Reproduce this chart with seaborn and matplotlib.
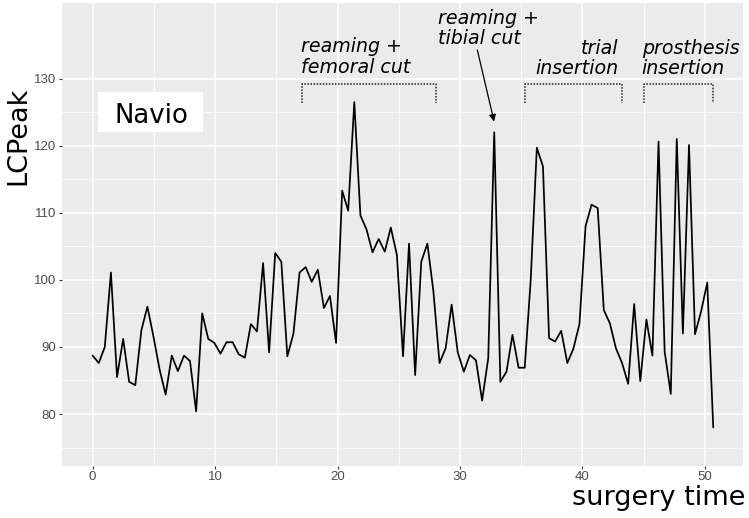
import numpy as np
import pandas as pd
import seaborn as sns
import matplotlib.pyplot as plt
from matplotlib.patches import Rectangle
from matplotlib.ticker import FixedLocator

surgery_time = [
    0.00, 0.50, 0.99, 1.49, 1.99, 2.49, 2.98, 3.48, 3.98, 4.47,
    4.97, 5.47, 5.96, 6.46, 6.96, 7.46, 7.95, 8.45, 8.95, 9.44,
    9.94, 10.44, 10.93, 11.43, 11.93, 12.43, 12.92, 13.42, 13.92, 14.41,
    14.91, 15.41, 15.90, 16.40, 16.90, 17.40, 17.89, 18.39, 18.89, 19.38,
    19.88, 20.38, 20.87, 21.37, 21.87, 22.37, 22.86, 23.36, 23.86, 24.35,
    24.85, 25.35, 25.84, 26.34, 26.84, 27.34, 27.83, 28.33, 28.83, 29.32,
    29.82, 30.32, 30.81, 31.31, 31.81, 32.31, 32.80, 33.30, 33.80, 34.29,
    34.79, 35.29, 35.78, 36.28, 36.78, 37.28, 37.77, 38.27, 38.77, 39.26,
    39.76, 40.26, 40.75, 41.25, 41.75, 42.25, 42.74, 43.24, 43.74, 44.23,
    44.73, 45.23, 45.72, 46.22, 46.72, 47.22, 47.71, 48.21, 48.71, 49.20,
    49.70, 50.20, 50.69,
]
lc_peak = [
    88.7, 87.6, 90.0, 101.1, 85.5, 91.2, 84.8, 84.3, 92.5, 96.0,
    91.5, 86.6, 82.9, 88.7, 86.4, 88.7, 87.9, 80.4, 95.0, 91.2,
    90.6, 89.0, 90.7, 90.7, 88.9, 88.4, 93.4, 92.3, 102.5, 89.2,
    104.0, 102.7, 88.6, 92.0, 101.1, 101.9, 99.7, 101.5, 95.8, 97.6,
    90.6, 113.3, 110.3, 126.5, 109.6, 107.5, 104.1, 106.1, 104.2, 107.8,
    103.7, 88.6, 105.4, 85.8, 102.7, 105.4, 98.3, 87.6, 89.8, 96.3,
    89.2, 86.3, 88.8, 88.0, 82.0, 88.3, 122.0, 84.8, 86.3, 91.8,
    86.9, 86.9, 100.0, 119.7, 116.9, 91.3, 90.8, 92.4, 87.6, 89.7,
    93.4, 108.0, 111.2, 110.7, 95.5, 93.5, 89.8, 87.6, 84.5, 96.4,
    84.9, 94.1, 88.7, 120.6, 89.3, 83.0, 121.0, 92.0, 120.1, 91.9,
    95.3, 99.6, 78.0,
]

x_breaks = [0, 10, 20, 30, 40, 50]
y_breaks = [80, 90, 100, 110, 120, 130]

# surgery phases marked with dotted brackets
phase_labels = ["reaming +\nfemoral cut", "trial\ninsertion", "prosthesis\ninsertion"]
phase_start = [17.1, 35.3, 45.0]
phase_end = [28.05, 43.2, 50.65]

df = pd.DataFrame({"surgery time": surgery_time, "LCPeak": lc_peak})

sns.set_theme(style="darkgrid")
plt.rcParams["font.family"] = ["DejaVu Sans"]

fig = plt.figure(figsize=(7.49, 5.18), dpi=100)
ax = fig.add_axes([61.7 / 749, 1 - 466 / 518, (743.0 - 61.7) / 749, 463 / 518])
sns.lineplot(data=df, x="surgery time", y="LCPeak", color="black",
             linewidth=1.25, ax=ax)

ax.set_facecolor("#EBEBEB")
ax.set_xlim(-2.53, 53.12)
ax.set_ylim(72.25, 141.27)
ax.set_xticks(x_breaks)
ax.set_yticks(y_breaks)
ax.xaxis.set_minor_locator(FixedLocator([5, 15, 25, 35, 45]))
ax.yaxis.set_minor_locator(FixedLocator([75, 85, 95, 105, 115, 125]))
ax.grid(which="major", color="white", linewidth=1.1)
ax.grid(which="minor", color="white", linewidth=0.55)
ax.set_axisbelow(True)
ax.tick_params(which="major", bottom=True, left=True, length=2.3, width=0.8,
               color="#333333", labelcolor="#4D4D4D", labelsize=9.5, pad=1.5)
ax.tick_params(which="minor", length=0)
for lab in ax.get_xticklabels() + ax.get_yticklabels():
    lab.set_fontfamily("Liberation Sans")
for s in ax.spines.values():
    s.set_visible(False)
ax.set_xlabel("")
ax.set_ylabel("")

fig.text(18 / 749, 1 - 136 / 518, "LCPeak", rotation=90, ha="center",
         va="center", fontsize=19.5, color="black")
fig.text(745 / 749, 1 - 505 / 518, "surgery time", ha="right",
         va="baseline", fontsize=19.5, color="black")

# Navio label box
ax.add_patch(Rectangle((0.46, 122.08), 8.53, 5.97, facecolor="white",
                       edgecolor="none", zorder=3))
ax.text(4.84, 123.43, "Navio", ha="center", va="baseline", fontsize=18.7,
        color="black", zorder=4)

# phase brackets
for x0, x1 in zip(phase_start, phase_end):
    ax.plot([x0, x0, x1, x1], [126.3, 129.2, 129.2, 126.3], color="#222222",
            linewidth=1.1, linestyle=(0, (1, 1)), zorder=3)

# va="baseline" puts the last line's baseline at y
ann = dict(fontsize=13.7, style="italic", color="black", va="baseline",
           linespacing=1.1)
ax.text(17.0, 130.87, phase_labels[0], ha="left", **ann)
ax.text(42.94, 130.67, phase_labels[1], ha="right", multialignment="right", **ann)
ax.text(44.85, 130.67, phase_labels[2], ha="left", **ann)
ax.text(28.24, 135.12, "reaming +\ntibial cut", ha="left", **ann)
ax.annotate("", xy=(32.79, 123.6), xytext=(31.42, 134.26),
            arrowprops=dict(arrowstyle="-|>", color="black", lw=0.9,
                            mutation_scale=10, shrinkA=0, shrinkB=0))

fig.savefig("out.png", dpi=100)
